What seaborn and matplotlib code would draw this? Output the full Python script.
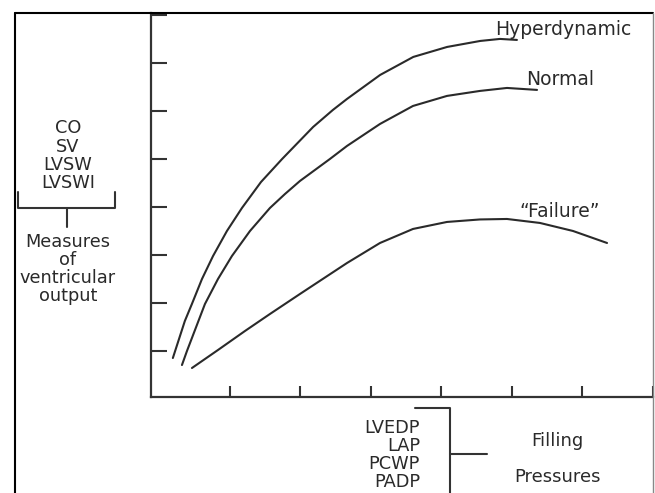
import matplotlib
matplotlib.use("Agg")
import matplotlib.pyplot as plt
import seaborn as sns
import pandas as pd
from matplotlib.lines import Line2D

# ---- data (x in x-tick units, y in y-tick units) ----
hyper_x = [0.19, 0.36, 0.46, 0.603, 0.76, 0.957, 1.17, 1.44, 1.74, 2.18, 2.46, 2.66, 3.13, 3.60, 4.08, 4.55, 4.83, 5.07]
hyper_y = [0.854, 1.625, 1.979, 2.50, 2.979, 3.50, 3.979, 4.52, 5.00, 5.667, 6.021, 6.25, 6.75, 7.125, 7.333, 7.458, 7.50, 7.479]

normal_x = [0.319, 0.390, 0.645, 0.830, 1.028, 1.284, 1.567, 1.78, 1.993, 2.418, 2.660, 3.128, 3.596, 4.078, 4.546, 4.929, 5.355]
normal_y = [0.708, 1.000, 1.979, 2.50, 2.979, 3.50, 3.979, 4.27, 4.542, 5.000, 5.271, 5.729, 6.104, 6.313, 6.417, 6.479, 6.438]

failure_x = [0.461, 0.830, 1.213, 1.567, 1.993, 2.660, 3.128, 3.596, 4.078, 4.546, 4.929, 5.397, 5.865, 6.348]
failure_y = [0.646, 1.021, 1.417, 1.771, 2.188, 2.833, 3.250, 3.542, 3.688, 3.740, 3.750, 3.667, 3.500, 3.250]

curve_names = ["Hyperdynamic", "Normal", "\u201cFailure\u201d"]
x_ticks = [1, 2, 3, 4, 5, 6, 7]
y_ticks = [1, 2, 3, 4, 5, 6, 7, 8]
left_lines = ["CO", "SV", "LVSW", "LVSWI"]
left_caption = ["Measures", "of", "ventricular", "output"]
bottom_lines = ["LVEDP", "LAP", "PCWP", "PADP"]
bottom_caption = ["Filling", "Pressures"]

df = pd.concat([
    pd.DataFrame({"x": hyper_x, "y": hyper_y, "curve": curve_names[0]}),
    pd.DataFrame({"x": normal_x, "y": normal_y, "curve": curve_names[1]}),
    pd.DataFrame({"x": failure_x, "y": failure_y, "curve": curve_names[2]}),
], ignore_index=True)

sns.set_style("white")
plt.rcParams["font.family"] = ["DejaVu Sans"]

W, H = 655, 493
fig = plt.figure(figsize=(W / 100, H / 100), dpi=100)

def fx(px):
    return px / W

def fy(py):
    return 1 - py / H

ax = fig.add_axes([fx(151), fy(397), (653 - 151) / W, (397 - 13) / H])
ink = "#2a2a2a"
sns.lineplot(data=df, x="x", y="y", units="curve", estimator=None, sort=False,
             color=ink, linewidth=1.5, legend=False, ax=ax)

ax.set_xlim(-0.12, 7.0)
ax.set_ylim(0.042, 8.04)
ax.set_xticks(x_ticks)
ax.set_yticks(y_ticks)
ax.set_xticklabels([])
ax.set_yticklabels([])
ax.set_xlabel("")
ax.set_ylabel("")
ax.tick_params(axis="y", which="major", left=True, direction="in", length=11.5, width=1.5, color="#333333")
ax.tick_params(axis="x", which="major", bottom=True, direction="in", length=8, width=1.5, color="#333333")
for s in ["top", "right"]:
    ax.spines[s].set_visible(False)
for s in ["left", "bottom"]:
    ax.spines[s].set_color("#333333")
    ax.spines[s].set_linewidth(1.6)
ax.patch.set_alpha(0)

fs = 13.5     # isolated labels
fs_list = 12.8  # stacked lists

# curve labels
lbl = dict(fontsize=fs, color=ink, ha="center", va="baseline")
fig.text(fx(563), fy(35), curve_names[0], **lbl)
fig.text(fx(560), fy(85), curve_names[1], **lbl)
fig.text(fx(560), fy(217), curve_names[2], **lbl)

# outer frame
def fline(xs, ys, color="black", lw=1.5):
    fig.add_artist(Line2D([fx(v) for v in xs], [fy(v) for v in ys],
                          color=color, lw=lw, transform=fig.transFigure, clip_on=False))

fline([15, 15], [13, 495])
fline([15, 653], [13, 13])
fline([653, 653], [13, 495], color="#888888", lw=1.0)

# left annotation
for txt, base in zip(left_lines, [133, 151.5, 170, 188.5]):
    fig.text(fx(68), fy(base), txt, fontsize=fs_list, color=ink, ha="center", va="baseline")
fline([18, 18, 115, 115], [192, 208, 208, 192], color="#333333", lw=1.5)
fline([67, 67], [208, 227], color="#333333", lw=1.5)
for txt, base in zip(left_caption, [247, 265, 283, 301]):
    fig.text(fx(68), fy(base), txt, fontsize=fs_list, color=ink, ha="center", va="baseline")

# bottom annotation
for txt, base in zip(bottom_lines, [433, 451, 469, 487]):
    fig.text(fx(420), fy(base), txt, fontsize=fs_list, color=ink, ha="right", va="baseline")
fline([415, 450, 450], [408, 408, 495], color="#333333", lw=1.5)
fline([450, 487], [454, 454], color="#333333", lw=1.5)
fig.text(fx(557), fy(446), bottom_caption[0], fontsize=13, color=ink, ha="center", va="baseline")
fig.text(fx(557), fy(482), bottom_caption[1], fontsize=13, color=ink, ha="center", va="baseline")

fig.savefig("out.png", dpi=100)
